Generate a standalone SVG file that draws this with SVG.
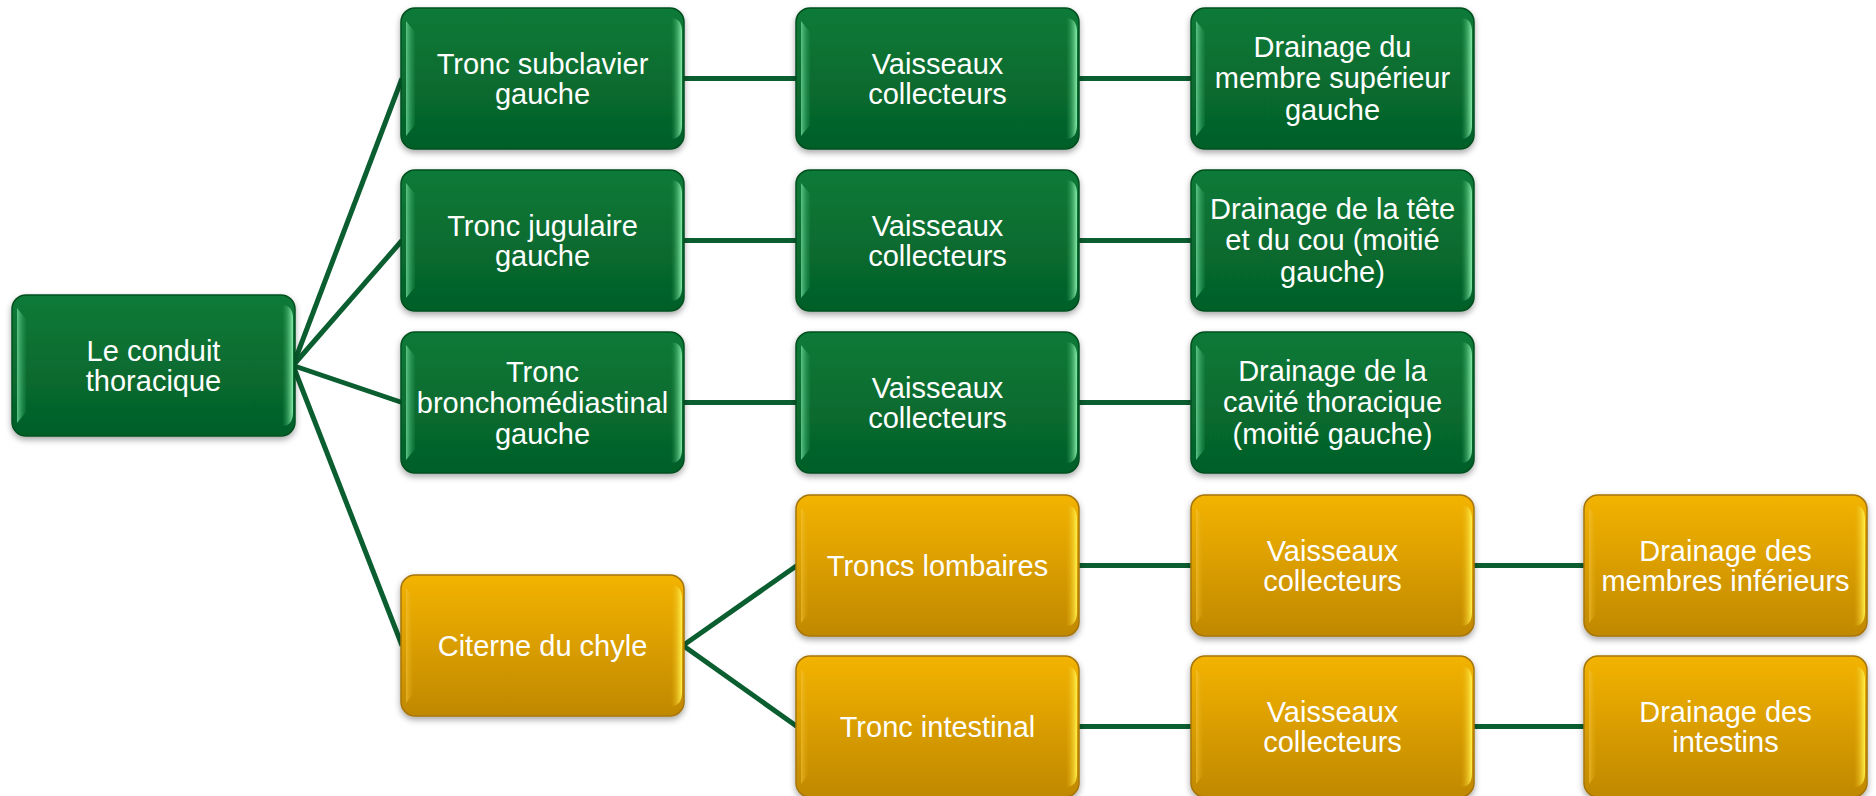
<svg xmlns="http://www.w3.org/2000/svg" xmlns:xlink="http://www.w3.org/1999/xlink" width="1876" height="796" viewBox="0 0 1876 796">
<style>
.t{font-family:"Liberation Sans",Arial,sans-serif;font-size:29px;fill:#ffffff;text-anchor:middle}
.c{stroke:#0b5e30;stroke-width:5;fill:none}
</style>
<defs>
<linearGradient id="gG" x1="0" y1="0" x2="0" y2="1">
<stop offset="0" stop-color="#0a7a38"/><stop offset="1" stop-color="#055f28"/>
</linearGradient>
<linearGradient id="gY" x1="0" y1="0" x2="0" y2="1">
<stop offset="0" stop-color="#f3b306"/><stop offset="1" stop-color="#c08806"/>
</linearGradient>
<linearGradient id="gGL" x1="0" y1="0" x2="1" y2="0">
<stop offset="0" stop-color="#5cc587"/><stop offset="1" stop-color="#1a8a48" stop-opacity="0.3"/>
</linearGradient>
<linearGradient id="gGR" x1="0" y1="0" x2="1" y2="0">
<stop offset="0" stop-color="#2a9a55" stop-opacity="0"/><stop offset="1" stop-color="#86eaa8"/>
</linearGradient>
<linearGradient id="gYL" x1="0" y1="0" x2="1" y2="0">
<stop offset="0" stop-color="#f7c640"/><stop offset="1" stop-color="#e0a80a" stop-opacity="0.2"/>
</linearGradient>
<linearGradient id="gYR" x1="0" y1="0" x2="1" y2="0">
<stop offset="0" stop-color="#e8b010" stop-opacity="0"/><stop offset="1" stop-color="#fff04a"/>
</linearGradient>
<filter id="sh" x="-10%" y="-10%" width="120%" height="130%">
<feDropShadow dx="0" dy="3" stdDeviation="3" flood-color="#000" flood-opacity="0.35"/>
</filter>
<g id="gbox">
<rect x="0" y="0" width="283" height="141" rx="14" fill="url(#gG)" stroke="#05501f" stroke-width="1.5" filter="url(#sh)"/>
<path d="M5,13 L14,24 L14,117 L5,128 Z" fill="url(#gGL)"/>
<path d="M270,10 Q281,10 281,24 L281,117 Q281,131 270,131 Z" fill="url(#gGR)"/>
</g>
<g id="ybox">
<rect x="0" y="0" width="283" height="141" rx="14" fill="url(#gY)" stroke="#a67508" stroke-width="1.5" filter="url(#sh)"/>
<path d="M5,13 L12,22 L12,119 L5,128 Z" fill="url(#gYL)" opacity="0.6"/>
<path d="M270,10 Q281,10 281,24 L281,117 Q281,131 270,131 Z" fill="url(#gYR)"/>
</g>
</defs>
<rect width="1876" height="796" fill="#ffffff"/>
<g id="connectors">
<line class="c" x1="293" y1="365.5" x2="402" y2="78.5"/>
<line class="c" x1="293" y1="365.5" x2="402" y2="240.5"/>
<line class="c" x1="293" y1="365.5" x2="402" y2="402.5"/>
<line class="c" x1="293" y1="365.5" x2="402" y2="645.5"/>
<line class="c" x1="683" y1="78.5" x2="797" y2="78.5"/>
<line class="c" x1="683" y1="240.5" x2="797" y2="240.5"/>
<line class="c" x1="683" y1="402.5" x2="797" y2="402.5"/>
<line class="c" x1="1078" y1="78.5" x2="1192" y2="78.5"/>
<line class="c" x1="1078" y1="240.5" x2="1192" y2="240.5"/>
<line class="c" x1="1078" y1="402.5" x2="1192" y2="402.5"/>
<line class="c" x1="683" y1="645.5" x2="797" y2="565.5"/>
<line class="c" x1="683" y1="645.5" x2="797" y2="726.5"/>
<line class="c" x1="1078" y1="565.5" x2="1192" y2="565.5"/>
<line class="c" x1="1078" y1="726.5" x2="1192" y2="726.5"/>
<line class="c" x1="1473" y1="565.5" x2="1585" y2="565.5"/>
<line class="c" x1="1473" y1="726.5" x2="1585" y2="726.5"/>
</g>
<g id="root"><use xlink:href="#gbox" x="12" y="295"/><text class="t" x="153.5" y="360.5">Le conduit</text><text class="t" x="153.5" y="390.5">thoracique</text></g>
<g id="subclavier"><use xlink:href="#gbox" x="401" y="8"/><text class="t" x="542.5" y="73.5">Tronc subclavier</text><text class="t" x="542.5" y="103.5">gauche</text></g>
<g id="jugulaire"><use xlink:href="#gbox" x="401" y="170"/><text class="t" x="542.5" y="235.5">Tronc jugulaire</text><text class="t" x="542.5" y="265.5">gauche</text></g>
<g id="broncho"><use xlink:href="#gbox" x="401" y="332"/><text class="t" x="542.5" y="381.5">Tronc</text><text class="t" x="542.5" y="412.5">bronchomédiastinal</text><text class="t" x="542.5" y="443.5">gauche</text></g>
<g id="citerne"><use xlink:href="#ybox" x="401" y="575"/><text class="t" x="542.5" y="655.5">Citerne du chyle</text></g>
<g id="vc1"><use xlink:href="#gbox" x="796" y="8"/><text class="t" x="937.5" y="73.5">Vaisseaux</text><text class="t" x="937.5" y="103.5">collecteurs</text></g>
<g id="vc2"><use xlink:href="#gbox" x="796" y="170"/><text class="t" x="937.5" y="235.5">Vaisseaux</text><text class="t" x="937.5" y="265.5">collecteurs</text></g>
<g id="vc3"><use xlink:href="#gbox" x="796" y="332"/><text class="t" x="937.5" y="397.5">Vaisseaux</text><text class="t" x="937.5" y="427.5">collecteurs</text></g>
<g id="lombaires"><use xlink:href="#ybox" x="796" y="495"/><text class="t" x="937.5" y="575.5">Troncs lombaires</text></g>
<g id="intestinal"><use xlink:href="#ybox" x="796" y="656"/><text class="t" x="937.5" y="736.5">Tronc intestinal</text></g>
<g id="dr1"><use xlink:href="#gbox" x="1191" y="8"/><text class="t" x="1332.5" y="56.5">Drainage du</text><text class="t" x="1332.5" y="88">membre supérieur</text><text class="t" x="1332.5" y="119.5">gauche</text></g>
<g id="dr2"><use xlink:href="#gbox" x="1191" y="170"/><text class="t" x="1332.5" y="218.5">Drainage de la tête</text><text class="t" x="1332.5" y="250">et du cou (moitié</text><text class="t" x="1332.5" y="281.5">gauche)</text></g>
<g id="dr3"><use xlink:href="#gbox" x="1191" y="332"/><text class="t" x="1332.5" y="380.5">Drainage de la</text><text class="t" x="1332.5" y="412">cavité thoracique</text><text class="t" x="1332.5" y="443.5">(moitié gauche)</text></g>
<g id="vc4"><use xlink:href="#ybox" x="1191" y="495"/><text class="t" x="1332.5" y="560.5">Vaisseaux</text><text class="t" x="1332.5" y="590.5">collecteurs</text></g>
<g id="vc5"><use xlink:href="#ybox" x="1191" y="656"/><text class="t" x="1332.5" y="721.5">Vaisseaux</text><text class="t" x="1332.5" y="751.5">collecteurs</text></g>
<g id="dr4"><use xlink:href="#ybox" x="1584" y="495"/><text class="t" x="1725.5" y="560.5">Drainage des</text><text class="t" x="1725.5" y="590.5">membres inférieurs</text></g>
<g id="dr5"><use xlink:href="#ybox" x="1584" y="656"/><text class="t" x="1725.5" y="721.5">Drainage des</text><text class="t" x="1725.5" y="751.5">intestins</text></g>
</svg>
